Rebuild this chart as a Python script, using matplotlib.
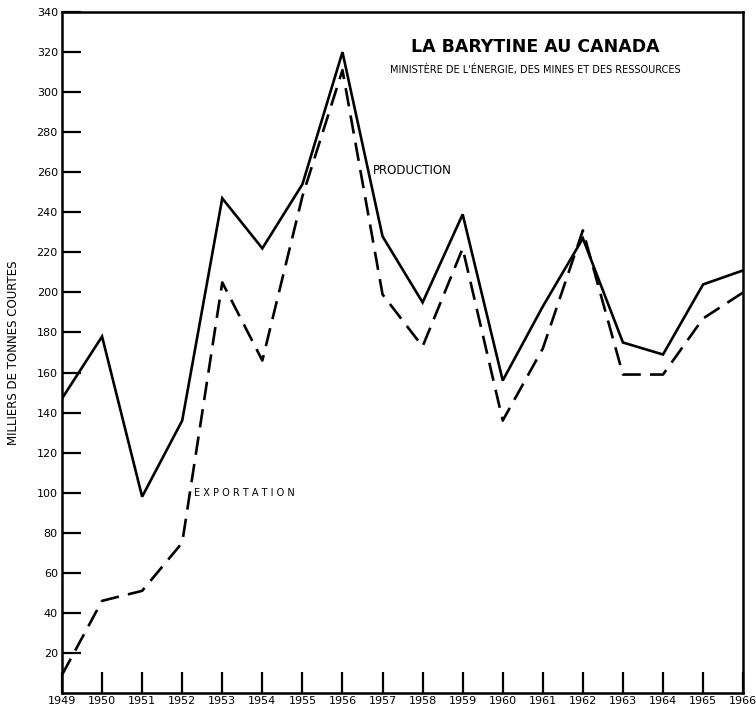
#barytine au canada
import matplotlib
matplotlib.use('Agg')
import matplotlib.pyplot as plt

#데이터
years = list(range(1949, 1967))
production = [147, 178, 98, 136, 247, 222, 254, 320, 228, 195, 239, 156, 193, 227, 175, 169, 204, 211]
exportation = [9, 46, 51, 75, 205, 166, 248, 311, 199, 173, 222, 136, 172, 231, 159, 159, 187, 200]
yticks = list(range(20, 341, 20))

plt.rcParams['font.family'] = ['Liberation Sans Narrow', 'DejaVu Sans']

fig = plt.figure(figsize=(7.56, 7.10), dpi=100)
ax = fig.add_axes([0.082, 0.024, 0.901, 0.959])

ax.plot(years, production, color='black', lw=1.9, solid_joinstyle='miter')
ax.plot(years, exportation, color='black', lw=1.9, linestyle=(0, (7, 3.5)))

ax.set_xlim(1949, 1966)
ax.set_ylim(0, 340)
ax.set_xticks(years)
ax.set_xticklabels([str(y) for y in years], fontsize=8)
ax.set_yticks(yticks)
ax.set_yticklabels([str(v) for v in yticks], fontsize=8)
ax.tick_params(axis='y', direction='in', length=14, width=1.6, pad=3)
ax.tick_params(axis='x', direction='in', length=15, width=1.6, pad=2)
for s in ax.spines.values():
    s.set_linewidth(1.8)

ax.set_ylabel('MILLIERS DE TONNES COURTES', fontsize=8.5, labelpad=12)

ax.text(1956.75, 261, 'PRODUCTION', fontsize=8.5, ha='left', va='center')
ax.text(1952.3, 100, 'E X P O R T A T I O N', fontsize=7, ha='left', va='center')

ax.text(0.695, 0.949, 'LA BARYTINE AU CANADA', transform=ax.transAxes,
        fontsize=12.5, fontweight='bold', ha='center', va='center')
ax.text(0.695, 0.916, "MINISTÈRE DE L'ÉNERGIE, DES MINES ET DES RESSOURCES", transform=ax.transAxes,
        fontsize=7, ha='center', va='center')

fig.savefig('out.png', dpi=100)
